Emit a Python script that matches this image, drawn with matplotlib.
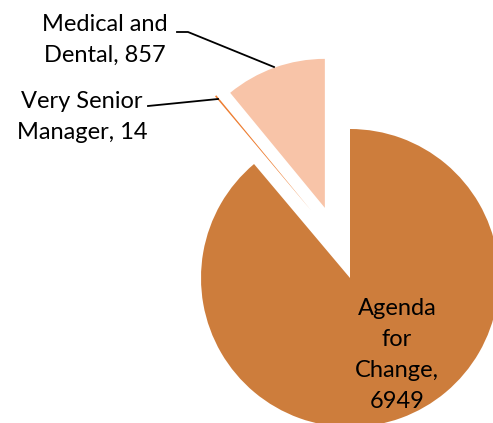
import matplotlib
matplotlib.use("Agg")
import matplotlib.pyplot as plt
import matplotlib.transforms as mtransforms

categories = ["Agenda for Change", "Very Senior Manager", "Medical and Dental"]
values = [6949, 14, 857]
colors = ["#CD7D3C", "#ED7D31", "#F8C4A8"]
explode = [0.0, 0.5, 0.5]

W, H = 493, 423
fig = plt.figure(figsize=(W / 100, H / 100), dpi=100)
ax = fig.add_axes([0, 0, 1, 1])
ax.set_axis_off()

CX, CY, R = 350, 278, 149


def px(x, y):
    return ((x - CX) / R, (CY - y) / R)


wedges, _ = ax.pie(values, colors=colors, explode=explode, startangle=90,
                   counterclock=False, radius=1.0,
                   wedgeprops=dict(linewidth=0))
# small sideways nudge of the thin exploded slice, as in the original rendering
wedges[1].set_transform(mtransforms.Affine2D().translate(0.058, 0.07) + ax.transData)

ax.set_xlim(px(0, 0)[0], px(W, 0)[0])
ax.set_ylim(px(0, H)[1], px(0, 0)[1])
ax.set_aspect("equal")

font = dict(family="Lato", fontsize=17, color="black", linespacing=1.58)

# Labels
ax.text(*px(105, 40), f"Medical and\nDental, {values[2]}", ha="center", va="center", **font)
ax.text(*px(82, 117), f"Very Senior\nManager, {values[1]}", ha="center", va="center", **font)
ax.text(*px(397, 355), f"Agenda\nfor\nChange,\n{values[0]}", ha="center", va="center", **font)

# Leader lines
l1 = [px(177, 32), px(188, 32), px(274, 67)]
ax.plot([p[0] for p in l1], [p[1] for p in l1], color="black", lw=1.3)
l2 = [px(148, 106), px(218, 99)]
ax.plot([p[0] for p in l2], [p[1] for p in l2], color="black", lw=1.3)

fig.savefig("out.png", dpi=100)
